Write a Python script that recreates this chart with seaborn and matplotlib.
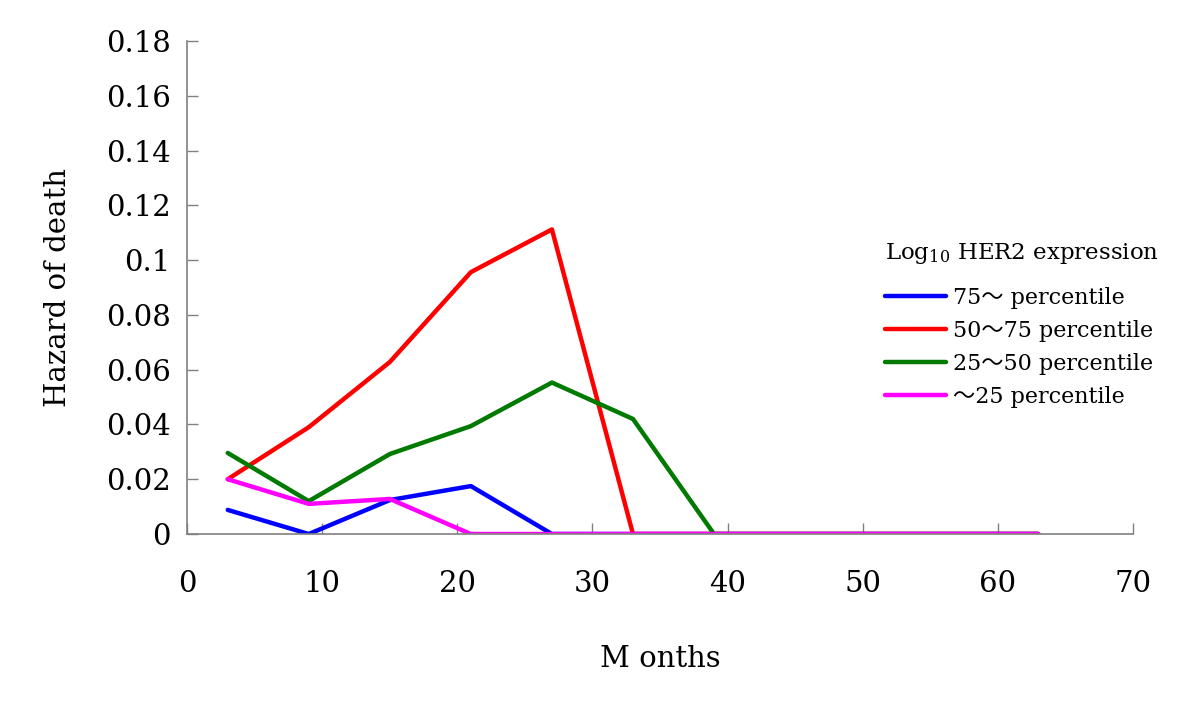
import numpy as np
import pandas as pd
import matplotlib
matplotlib.use("Agg")
import matplotlib.pyplot as plt
import seaborn as sns

months = [3, 9, 15, 21, 27, 33, 39, 45, 51, 57, 63]
hazard_75up = [0.0088, 0.0, 0.0124, 0.0175, 0.0, 0, 0, 0, 0, 0, 0]
hazard_50_75 = [0.0200, 0.0390, 0.0628, 0.0956, 0.1112, 0, 0, 0, 0, 0, 0]
hazard_25_50 = [0.0296, 0.0120, 0.0292, 0.0394, 0.0553, 0.0420, 0, 0, 0, 0, 0]
hazard_25down = [0.0200, 0.0110, 0.0128, 0.0, 0, 0, 0, 0, 0, 0, 0]

group_names = ["75～ percentile", "50～75 percentile", "25～50 percentile", "～25 percentile"]
group_colors = ["#0000ff", "#ff0000", "#007a00", "#ff00ff"]
yticks = [0, 0.02, 0.04, 0.06, 0.08, 0.1, 0.12, 0.14, 0.16, 0.18]
ytick_labels = ["0", "0.02", "0.04", "0.06", "0.08", "0.1", "0.12", "0.14", "0.16", "0.18"]
xticks = [0, 10, 20, 30, 40, 50, 60, 70]

df = pd.DataFrame({
    "Months": months * 4,
    "Hazard": hazard_75up + hazard_50_75 + hazard_25_50 + hazard_25down,
    "Group": [g for g in group_names for _ in months],
})

sns.set_style("white", {"text.color": "black", "axes.labelcolor": "black",
                        "xtick.color": "black", "ytick.color": "black"})
plt.rcParams["font.family"] = ["DejaVu Serif", "Noto Sans CJK JP", "DejaVu Sans"]
plt.rcParams["mathtext.fontset"] = "dejavuserif"

fig = plt.figure(figsize=(12, 7.06), dpi=100)
ax = fig.add_axes([0.156, 0.2436, 0.788, 0.6984])

sns.lineplot(data=df, x="Months", y="Hazard", hue="Group", hue_order=group_names,
             palette=group_colors, linewidth=3.2, ax=ax, sort=False)

ax.set_xlim(0, 70)
ax.set_ylim(0, 0.18)
ax.set_xticks(xticks)
ax.set_yticks(yticks)
ax.set_yticklabels(ytick_labels)
ax.tick_params(bottom=True, left=True, direction="in", length=8, width=1,
               color="#808080", labelcolor="black", labelsize=21)
ax.tick_params(axis="y", pad=12)
ax.tick_params(axis="x", pad=26)
for s in ["top", "right"]:
    ax.spines[s].set_visible(False)
for s in ["left", "bottom"]:
    ax.spines[s].set_color("#808080")
    ax.spines[s].set_linewidth(1.2)

ax.set_xlabel("M onths", fontsize=21, labelpad=34)
ax.set_ylabel("Hazard of death", fontsize=21, labelpad=24)

leg = ax.legend(title="Log$_{10}$ HER2 expression", frameon=False, fontsize=16,
                title_fontsize=16.5, loc="upper left", bbox_to_anchor=(0.721, 0.687),
                bbox_transform=fig.transFigure, handlelength=2.75, handletextpad=0.3,
                labelspacing=0.5, alignment="left")
# more room between title and first entry
leg._legend_box.sep = 15
for line in leg.get_lines():
    line.set_linewidth(3.2)

fig.savefig("out.png", dpi=100)
